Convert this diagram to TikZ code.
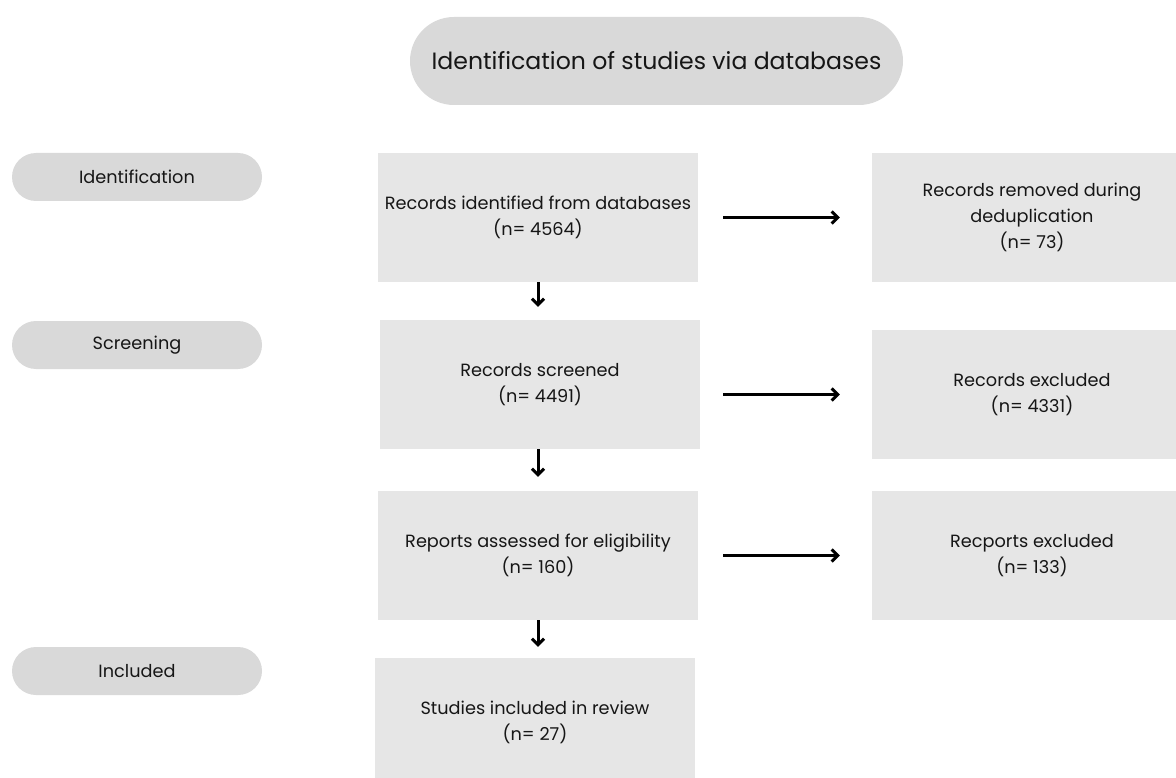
\documentclass[tikz,border=0pt]{standalone}
\usepackage{fontspec}
\setmainfont{Poppins}
\usepackage{xcolor}
\usepackage{tikz}
\usetikzlibrary{arrows.meta,positioning,calc}

\definecolor{pillgray}{HTML}{D9D9D9}
\definecolor{boxgray}{HTML}{E6E6E6}
\definecolor{inkdark}{HTML}{161616}

\begin{document}
\begin{tikzpicture}[x=1pt,y=-1pt,
  every node/.style={font=\fontsize{17.7}{26}\selectfont,text=inkdark,align=center},
  pill/.style={fill=pillgray,rounded corners=24pt,minimum width=250pt,minimum height=48pt,inner sep=0pt},
  stagebox/.style={fill=boxgray,minimum width=320pt,minimum height=129pt,inner sep=0pt},
  flow/.style={-{Straight Barb[length=6pt,width=12pt]},line width=3pt,black}]

\useasboundingbox (0,0) rectangle (1176,778);

% Title row
\node[pill,minimum width=493pt,minimum height=88pt,rounded corners=44pt,font=\fontsize{23.6}{28}\selectfont] (title) at (656.5,61) {Identification of studies via databases};

% Phases
\node[pill] (pid) at (137,177) {Identification};
\node[pill] (pscr) at (137,345) {Screening};
\node[pill] (pinc) at (137,671) {Included};

% Main column
\node[stagebox] (ident) at (538,217.5) {Records identified from databases\\(n= 4564)};
\node[stagebox] (screen) at (540,384.5) {Records screened\\(n= 4491)};
\node[stagebox] (elig) at (538,555.5) {Reports assessed for eligibility\\(n= 160)};
\node[stagebox] (incl) at (535,722.5) {Studies included in review\\(n= 27)};

% Side column
\node[stagebox] (dedup) at (1032,217.5) {Records removed during\\deduplication\\(n= 73)};
\node[stagebox] (excl) at (1032,394.5) {Records excluded\\(n= 4331)};
\node[stagebox] (repexcl) at (1032,555.5) {Recports excluded\\(n= 133)};

% Down arrows
\draw[flow,shorten >=13pt] (ident.south) -- (ident.south |- screen.north);
\draw[flow,shorten >=14pt] (screen.south -| ident.south) -- (ident.south |- elig.north);
\draw[flow,shorten >=11pt] (elig.south) -- (elig.south |- incl.north);

% Side arrows
\draw[flow,shorten <=25pt,shorten >=32pt] (ident.east) -- (dedup.west);
\draw[flow,shorten <=23pt,shorten >=32pt] (screen.east |- excl.west) -- (excl.west);
\draw[flow,shorten <=25pt,shorten >=32pt] (elig.east) -- (repexcl.west);

\end{tikzpicture}
\end{document}
